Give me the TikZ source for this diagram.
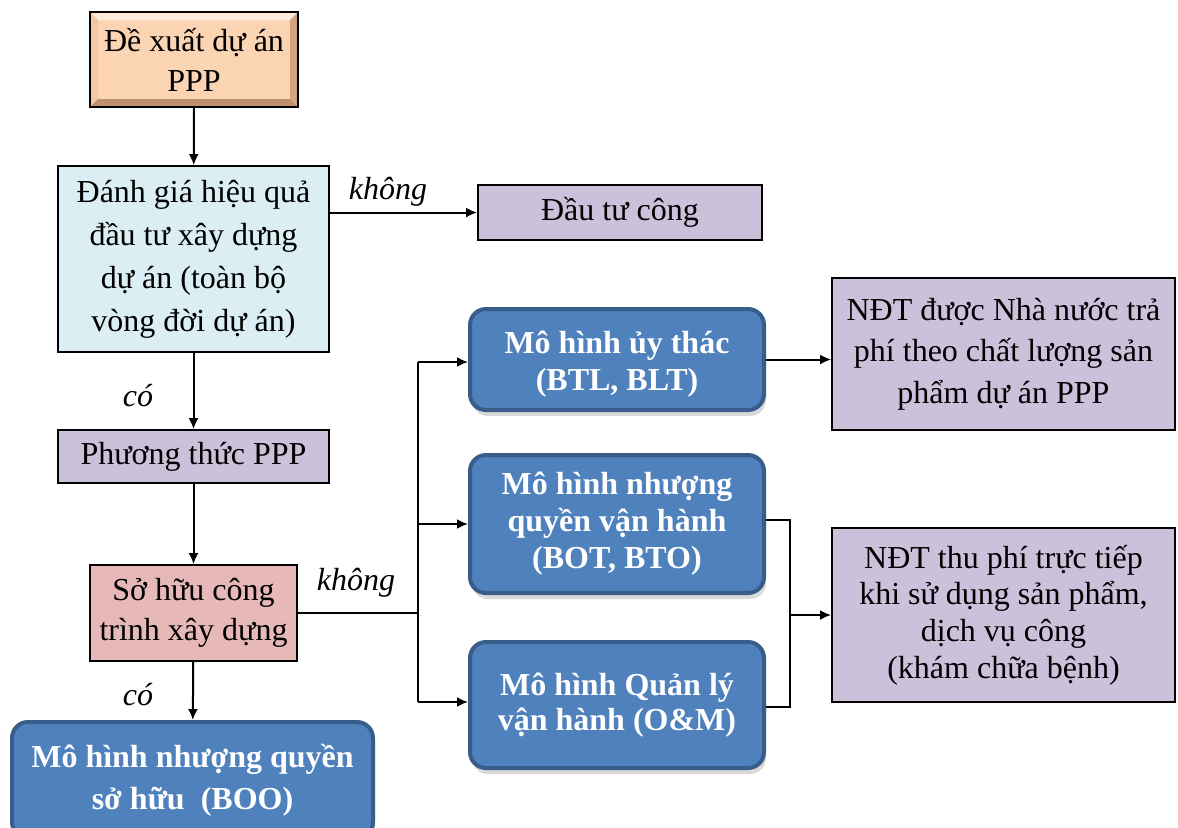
\documentclass[tikz,border=0pt]{standalone}
\usepackage{fontspec}
\setmainfont{Liberation Serif}
\usetikzlibrary{arrows.meta,shadows,calc}
\definecolor{peach}{HTML}{FBD4B4}
\definecolor{peachtop}{HTML}{FDEADA}
\definecolor{peachleft}{HTML}{F3C7A4}
\definecolor{peachright}{HTML}{D2A482}
\definecolor{peachbottom}{HTML}{BE906E}
\definecolor{paleblue}{HTML}{DAEEF3}
\definecolor{lavender}{HTML}{CCC1DA}
\definecolor{rose}{HTML}{E6B9B8}
\definecolor{modelblue}{HTML}{4F81BD}
\definecolor{modeledge}{HTML}{385D8A}
\begin{document}
\begin{tikzpicture}[x=0.5pt,y=-0.5pt,
  plainbox/.style={draw=black, line width=0.9pt, align=center, inner sep=0pt,
    font=\fontsize{16}{21.5}\selectfont},
  bevelbox/.style={plainbox, fill=peach,
    path picture={
      \fill[peachtop] (path picture bounding box.north west) -- (path picture bounding box.north east)
        -- ([shift={(-4pt,-4pt)}]path picture bounding box.north east)
        -- ([shift={(4pt,-4pt)}]path picture bounding box.north west) -- cycle;
      \fill[peachleft] (path picture bounding box.north west) -- ([shift={(4pt,-4pt)}]path picture bounding box.north west)
        -- ([shift={(4pt,4pt)}]path picture bounding box.south west)
        -- (path picture bounding box.south west) -- cycle;
      \fill[peachright] (path picture bounding box.north east) -- ([shift={(-4pt,-4pt)}]path picture bounding box.north east)
        -- ([shift={(-4pt,4pt)}]path picture bounding box.south east)
        -- (path picture bounding box.south east) -- cycle;
      \fill[peachbottom] (path picture bounding box.south west) -- ([shift={(4pt,4pt)}]path picture bounding box.south west)
        -- ([shift={(-4pt,4pt)}]path picture bounding box.south east)
        -- (path picture bounding box.south east) -- cycle;
    }},
  modelbox/.style={draw=modeledge, fill=modelblue, line width=2pt, rounded corners=8pt,
    text=white, align=center, inner sep=0pt,
    font=\bfseries\fontsize{16}{18.5}\selectfont,
    drop shadow={opacity=0.3, shadow xshift=1pt, shadow yshift=-3pt}},
  lbl/.style={font=\itshape\fontsize{16}{19}\selectfont, inner sep=0pt},
  wire/.style={line width=1pt},
  link/.style={wire, -{Latex[length=5.5pt,width=5pt]}}
]
\useasboundingbox (0,0) rectangle (1178,827);
\clip (0,0) rectangle (1178,827);

% left column
\node[bevelbox, minimum width=104pt, minimum height=47.5pt,
  font=\fontsize{16}{20}\selectfont] (b1) at (194,59.5) {Đề xuất dự án\\PPP};
\node[plainbox, fill=paleblue, minimum width=135.5pt, minimum height=93pt] (b2) at (193.5,259)
  {Đánh giá hiệu quả\\đầu tư xây dựng\\ dự án (toàn bộ\\vòng đời dự án)};
\node[plainbox, fill=lavender, minimum width=142pt, minimum height=27.5pt] (b3) at (620,212.5) {Đầu tư công};
\node[plainbox, fill=lavender, minimum width=135.5pt, minimum height=26.5pt] (b4) at (193.5,456.5) {Phương thức PPP};
\node[plainbox, fill=rose, minimum width=103.5pt, minimum height=48pt,
  font=\fontsize{16}{20}\selectfont] (b5) at (193.5,613) {Sở hữu công\\trình xây dựng};
\node[modelbox, minimum width=180.5pt, minimum height=58pt,
  font=\bfseries\fontsize{16}{21}\selectfont] (b6) at (192.5,780) {Mô hình nhượng quyền\\sở hữu\ \ (BOO)};

% middle column
\node[modelbox, minimum width=147pt, minimum height=50.5pt] (b7) at (617,359.5) {\strut\\[-16pt]Mô hình ủy thác\\(BTL, BLT)};
\node[modelbox, minimum width=147pt, minimum height=69pt] (b8) at (617,524) {Mô hình nhượng\\quyền vận hành\\(BOT, BTO)};
\node[modelbox, minimum width=147pt, minimum height=63pt,
  font=\bfseries\fontsize{16}{17.5}\selectfont] (b9) at (617,705) {Mô hình Quản lý\\vận hành (O\&M)};

% right column
\node[plainbox, fill=lavender, minimum width=171.5pt, minimum height=76pt,
  font=\fontsize{16}{20.8}\selectfont] (b10) at (1003.5,354)
  {NĐT được Nhà nước trả\\phí theo chất lượng sản\\phẩm dự án PPP};
\node[plainbox, fill=lavender, minimum width=171.5pt, minimum height=87pt,
  font=\fontsize{16}{18.3}\selectfont] (b11) at (1003.5,615)
  {NĐT thu phí trực tiếp\\khi sử dụng sản phẩm,\\dịch vụ công\\(khám chữa bệnh)};

% labels
\node[lbl] (l1) at (388,192) {không};
\node[lbl] (l2) at (138,396) {có};
\node[lbl] (l3) at (356,583) {không};
\node[lbl] (l4) at (138,695) {có};

% connectors
\draw[link] (b1) -- (b2);
\draw[link] (b2.east |- b3) -- (b3.west);
\draw[link] (b2) -- (b4);
\draw[link] (b4) -- (b5);
\draw[link] (b5) -- (b6);

\coordinate (j1) at (418,613);
\coordinate (jt) at (418,362);
\coordinate (jb) at (418,702);
\draw[wire] (b5.east |- j1) -- (j1);
\draw[wire] (jt) -- (jb);
\draw[link] (jt) -- (jt -| b7.west);
\draw[link] (j1 |- b8) -- (b8.west);
\draw[link] (jb) -- (jb -| b9.west);

\draw[link] (b7.east) -- (b7.east -| b10.west);

\coordinate (k1) at (790,520);
\coordinate (k2) at (790,707);
\draw[wire] (b8.east |- k1) -- (k1) -- (k2) -- (b9.east |- k2);
\draw[link] (k1 |- b11) -- (b11.west);
\end{tikzpicture}
\end{document}
